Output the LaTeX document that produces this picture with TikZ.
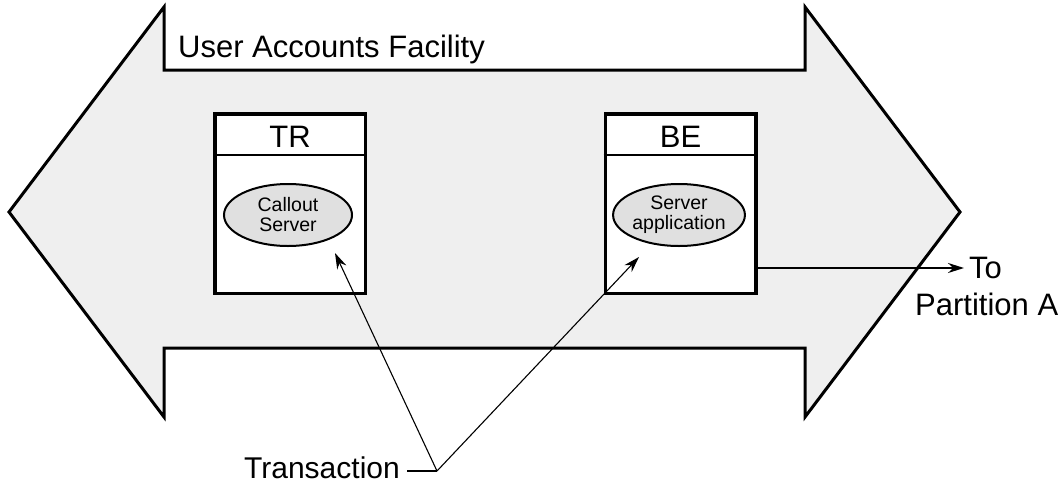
\documentclass[tikz,border=0pt]{standalone}
\usepackage{fontspec}
\setmainfont{Liberation Sans}
\usetikzlibrary{arrows.meta,shapes.geometric}
\definecolor{bandgray}{HTML}{EFEFEF}
\definecolor{ovalgray}{HTML}{E0E0E0}
\tikzset{
  bigtext/.style={inner sep=0pt, font=\fontsize{31}{36}\selectfont},
  partbox/.style={draw, line width=3.5pt, fill=white, minimum width=150.5pt, minimum height=179.5pt, inner sep=0pt},
  oval/.style={draw, ellipse, line width=2pt, fill=ovalgray, minimum width=128pt, minimum height=62pt, inner sep=0pt, align=center, font=\fontsize{19.5}{20}\selectfont},
  thinarrow/.style={line width=1.1pt, -{Stealth[length=16pt,width=10pt]}},
  toarrow/.style={line width=2pt, -{Stealth[length=16pt,width=10pt]}},
}
\begin{document}
\begin{tikzpicture}[x=1pt,y=-1pt]
\useasboundingbox (0,0) rectangle (1064,495);
% big double arrow
\draw[line width=3pt, fill=bandgray, line join=miter]
  (9,212) -- (164,7) -- (164,70) -- (805,70) -- (805,7) -- (960,212)
  -- (805,417) -- (805,348) -- (164,348) -- (164,417) -- cycle;
\node[bigtext, anchor=base west] (uaf) at (178,57) {User Accounts Facility};
% boxes
\node[partbox] (tr) at (290,203.5) {};
\node[partbox] (be) at (680.5,203.5) {};
\draw[line width=2pt] (tr.west |- 0,155) -- (tr.east |- 0,155);
\draw[line width=2pt] (be.west |- 0,155) -- (be.east |- 0,155);
\node[bigtext, anchor=base] (trlbl) at (290,147) {TR};
\node[bigtext, anchor=base] (belbl) at (680.5,147) {BE};
\node[oval] (callout) at (288,215) {Callout\\Server};
\node[oval] (serverapp) at (679,215) {Server\\application};
% to partition A
\node[bigtext, anchor=base west] (to) at (969,278) {To};
\node[bigtext, anchor=base west] (parta) at (915,315) {Partition A};
\coordinate (totip) at (964,268);
\draw[toarrow] ([yshift=-64.5pt]be.east) -- (totip);
% transaction
\node[bigtext, font=\fontsize{30}{36}\selectfont, anchor=base east] (trans) at (400,478) {Transaction};
\coordinate (junc) at (437,471);
\coordinate (trtip) at (335,253);
\coordinate (betip) at (639,257);
\draw[line width=2pt] ([xshift=7pt]trans.east |- junc) -- (junc);
\draw[thinarrow] (junc) -- (trtip);
\draw[thinarrow] (junc) -- (betip);
\end{tikzpicture}
\end{document}
